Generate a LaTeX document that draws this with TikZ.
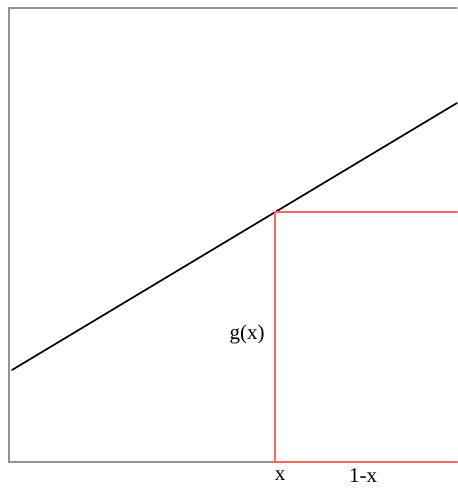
\documentclass[tikz,border=0pt]{standalone}
\usepackage{fontspec}
\setmainfont{Liberation Serif}
\usepackage{tikz}
\usepackage{tkz-euclide}

\begin{document}
\begin{tikzpicture}[x=1pt, y=-1pt]
                \useasboundingbox (0,0) rectangle (457,489);
                \tkzDefPoints{9/8/A, 457/8/B, 9/462/C, 457/462/D}
                \tkzDefPoints{12/370/P, 457/103/Q}
                \tkzDefPoints{275/462/X, 275/212/G, 457/212/R}
                \tkzDrawPolySeg[gray!85, line width=1.8pt](B,A,C,D)
                \tkzDrawSegment[black, line width=1.7pt](P,Q)
                \tkzDrawPolySeg[red!60, line width=2pt](D,X,G,R)
                \node[font=\fontsize{21}{24}\selectfont] (gx) at (247,334) {g(x)};
                \node[font=\fontsize{21}{24}\selectfont] (lx) at (280,476) {x};
                \node[font=\fontsize{21}{24}\selectfont] (lomx) at (363,476) {1-x};
            \end{tikzpicture}
\end{document}
